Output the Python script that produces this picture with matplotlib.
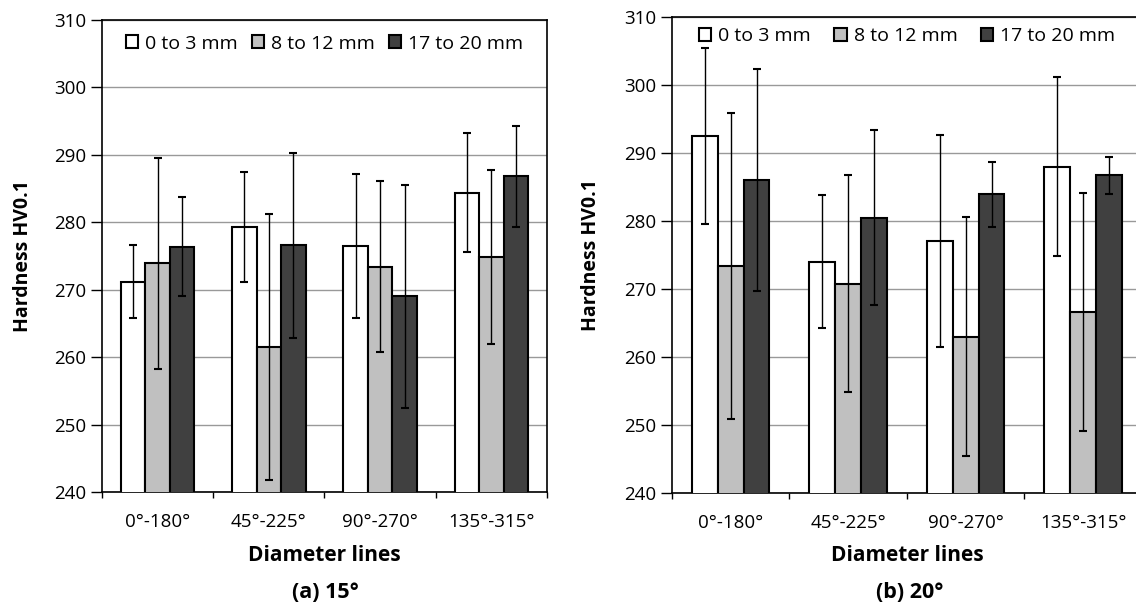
import matplotlib.pyplot as plt
import numpy as np

plt.rcParams['font.family'] = ['Open Sans', 'DejaVu Sans']

cats = ["0°-180°", "45°-225°", "90°-270°", "135°-315°"]
series = ["0 to 3 mm", "8 to 12 mm", "17 to 20 mm"]
colors = ["#ffffff", "#c0c0c0", "#404040"]

# (a) 15 deg
a_mean = [[271.2, 279.3, 276.5, 284.4],
          [273.9, 261.5, 273.4, 274.9],
          [276.4, 276.6, 269.0, 286.8]]
a_err = [[5.4, 8.1, 10.7, 8.8],
         [15.6, 19.7, 12.7, 12.9],
         [7.4, 13.7, 16.5, 7.5]]

# (b) 20 deg
b_mean = [[292.5, 274.0, 277.0, 288.0],
          [273.4, 270.8, 263.0, 266.6],
          [286.0, 280.5, 283.9, 286.7]]
b_err = [[12.9, 9.8, 15.6, 13.2],
         [22.5, 15.9, 17.6, 17.5],
         [16.3, 12.9, 4.8, 2.7]]

fig = plt.figure(figsize=(11.36, 6.06), dpi=100)
ax1 = fig.add_axes([0.0898, 0.1881, 0.3917, 0.779])
ax2 = fig.add_axes([0.5915, 0.1865, 0.4137, 0.7855])


def draw(ax, means, errs, leg_y, colsp, ylx, xly):
    x = np.arange(len(cats))
    w = 0.22
    for i in range(3):
        ax.bar(x + (i - 1) * w, means[i], w, bottom=0, color=colors[i],
               edgecolor='black', linewidth=1.5, zorder=3, label=series[i])
        ax.errorbar(x + (i - 1) * w, means[i], yerr=errs[i], fmt='none',
                    ecolor='black', elinewidth=1, capsize=3, capthick=1.5, zorder=4)
    ax.set_ylim(240, 310)
    ax.set_xlim(-0.5, 3.5)
    ax.set_yticks(range(240, 311, 10))
    ax.yaxis.grid(True, color='#999999', linewidth=1, zorder=0)
    ax.set_xticks(x)
    ax.set_xticklabels(cats, fontsize=13.5)
    ax.set_xticks(np.arange(-0.5, 4.0, 1.0), minor=True)
    ax.tick_params(axis='x', which='major', length=0, pad=15)
    ax.tick_params(axis='x', which='minor', length=4.5, width=1)
    ax.tick_params(axis='y', length=8, width=1, labelsize=13.5)
    for s in ax.spines.values():
        s.set_linewidth(1.2)
    ax.set_ylabel("Hardness HV0.1", fontsize=14, fontweight='bold')
    ax.yaxis.set_label_coords(ylx, 0.5)
    ax.yaxis.label.set_va('center')
    ax.set_xlabel("Diameter lines", fontsize=15, fontweight='bold')
    ax.xaxis.set_label_coords(0.5, xly)
    ax.xaxis.label.set_va('center')
    ax.legend(loc='upper center', bbox_to_anchor=(0.5, leg_y), ncol=3, frameon=False,
              fontsize=14, handlelength=0.65, handleheight=0.65, handletextpad=0.35,
              columnspacing=colsp, borderaxespad=0)


draw(ax1, a_mean, a_err, 0.985, 0.7, -0.1775, -0.1335)
draw(ax2, b_mean, b_err, 0.995, 1.2, -0.172, -0.132)

fig.text(0.2861, 1 - 593 / 606, "(a) 15°", ha='center', va='center',
         fontsize=15.5, fontweight='bold')
fig.text(0.801, 1 - 593 / 606, "(b) 20°", ha='center', va='center',
         fontsize=15.5, fontweight='bold')

fig.savefig("out.png", dpi=100)
